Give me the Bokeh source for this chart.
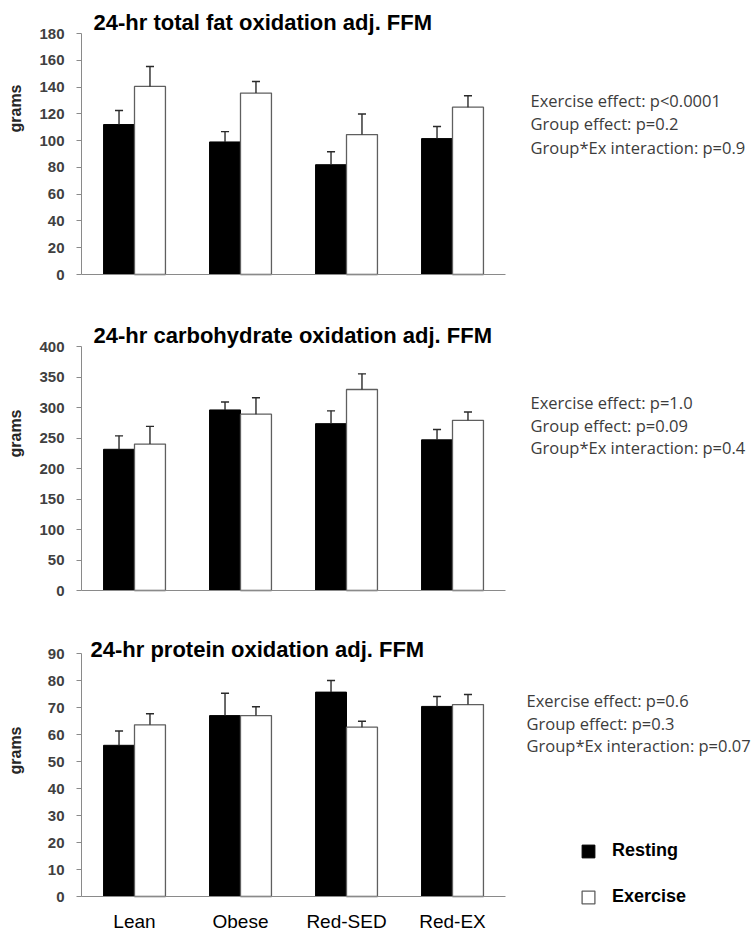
import math
from bokeh.plotting import figure
from bokeh.models import (ColumnDataSource, Range1d, Label, Legend, LegendItem,
                          SingleIntervalTicker, FixedTicker)
from bokeh.layouts import column
from bokeh.embed import file_html
from bokeh.resources import INLINE

# ---------------- data ----------------
groups = ["Lean", "Obese", "Red-SED", "Red-EX"]
series_names = ["Resting", "Exercise"]

fat_rest = [112, 99, 82, 101.5]
fat_rest_err = [10.5, 7.7, 9.7, 9]
fat_ex = [140.5, 135.5, 104.5, 125]
fat_ex_err = [14.8, 8.7, 15.4, 8.5]

cho_rest = [231.5, 296, 273.5, 247]
cho_rest_err = [22, 13, 21, 17]
cho_ex = [240, 289, 329.5, 279]
cho_ex_err = [29, 27, 25.7, 13.6]

pro_rest = [56, 67, 75.7, 70.4]
pro_rest_err = [5.3, 8.3, 4.3, 3.7]
pro_ex = [63.6, 67, 62.7, 71.1]
pro_ex_err = [4.1, 3.3, 2.2, 3.7]

titles = ["24-hr total fat oxidation adj. FFM",
          "24-hr carbohydrate oxidation adj. FFM",
          "24-hr protein oxidation adj. FFM"]
y_max = [180, 400, 90]
y_step = [20, 50, 10]
y_label = "grams"

stats = [
    ["Exercise effect: p<0.0001", "Group effect: p=0.2", "Group*Ex interaction: p=0.9"],
    ["Exercise effect: p=1.0", "Group effect: p=0.09", "Group*Ex interaction: p=0.4"],
    ["Exercise effect: p=0.6", "Group effect: p=0.3", "Group*Ex interaction: p=0.07"],
]

# ---------------- layout (screen pixels) ----------------
PAGE_L, PAGE_R = 0, 753
AXIS_X = 81          # screen x of the y axis
GROUP_PX = 106       # screen px per category
FIG_TOP = [0, 300, 620]
FIG_BOT = [300, 620, 933]
TOP_PX = [33, 346, 653]      # screen y of y_max
ZERO_PX = [274, 590, 896]    # screen y of 0
TITLE_X = [93, 93, 90]
TITLE_BASE = [22, 335, 649]
STATS_X = [530, 530, 526]
STATS_Y = [[100, 123, 147], [402, 425, 447], [700, 723, 745]]
GRAMS_Y = [108, 433, 750]
GRAMS_X = 15

BW = 0.292
OFF = 0.146
CAP = 0.038
AXIS_GREY = "#8a8a8a"
SANS = "Liberation Sans"


def make_panel(k, rest, rest_err, ex, ex_err, last):
    ymax = y_max[k]
    scale = (ZERO_PX[k] - TOP_PX[k]) / ymax

    def X(px):
        return (px - AXIS_X) / GROUP_PX

    def Y(py):
        return (ZERO_PX[k] - py) / scale

    p = figure(width=PAGE_R - PAGE_L, height=FIG_BOT[k] - FIG_TOP[k], title=None,
               x_range=Range1d(X(PAGE_L), X(PAGE_R)),
               y_range=Range1d(Y(FIG_BOT[k]), Y(FIG_TOP[k])),
               output_backend="svg", toolbar_location=None, min_border=0)
    p.outline_line_color = None
    p.xgrid.visible = False
    p.ygrid.visible = False
    p.background_fill_color = "white"
    p.border_fill_color = "white"

    centers = [i + 0.5 for i in range(len(groups))]
    src = ColumnDataSource(dict(
        xr=[c - OFF for c in centers], xe=[c + OFF for c in centers],
        xr0=[c - OFF - CAP for c in centers], xr1=[c - OFF + CAP for c in centers],
        xe0=[c + OFF - CAP for c in centers], xe1=[c + OFF + CAP for c in centers],
        rest=rest, rest_hi=[v + e for v, e in zip(rest, rest_err)],
        ex=ex, ex_hi=[v + e for v, e in zip(ex, ex_err)],
    ))

    r1 = p.vbar(x="xr", top="rest", width=BW, source=src,
                fill_color="black", line_color="black", line_width=1)
    r2 = p.vbar(x="xe", top="ex", width=BW, source=src,
                fill_color="white", line_color="#5f5f5f", line_width=1.3)

    for xc, x0, x1, lo, hi in [("xr", "xr0", "xr1", "rest", "rest_hi"),
                               ("xe", "xe0", "xe1", "ex", "ex_hi")]:
        p.segment(x0=xc, x1=xc, y0=lo, y1=hi, source=src,
                  line_color="#2a2a2a", line_width=1.4)
        p.segment(x0=x0, x1=x1, y0=hi, y1=hi, source=src,
                  line_color="#2a2a2a", line_width=1.4)

    # y axis
    ya = p.yaxis[0]
    ya.fixed_location = 0
    ya.bounds = (0, ymax)
    ya.ticker = SingleIntervalTicker(interval=y_step[k], num_minor_ticks=0)
    ya.axis_line_color = AXIS_GREY
    ya.major_tick_line_color = AXIS_GREY
    ya.major_tick_out = 5
    ya.major_tick_in = 0
    ya.minor_tick_line_color = None
    ya.major_label_standoff = 12
    ya.major_label_text_font = SANS
    ya.major_label_text_font_style = "bold"
    ya.major_label_text_font_size = "15px"
    ya.major_label_text_color = "#404040"

    # x axis
    xa = p.xaxis[0]
    xa.fixed_location = 0
    xa.bounds = (0, len(groups))
    xa.axis_line_color = AXIS_GREY
    xa.major_tick_line_color = None
    xa.minor_tick_line_color = None
    xa.major_tick_out = 0
    xa.major_tick_in = 0
    if last:
        xa.ticker = FixedTicker(ticks=centers)
        xa.major_label_overrides = {c: g for c, g in zip(centers, groups)}
        xa.major_label_standoff = 14
        xa.major_label_text_font = SANS
        xa.major_label_text_font_size = "19px"
        xa.major_label_text_color = "black"
    else:
        xa.ticker = FixedTicker(ticks=[])

    # title
    p.add_layout(Label(x=X(TITLE_X[k]), y=Y(TITLE_BASE[k]),
                       text=titles[k], text_font=SANS, text_font_style="bold",
                       text_font_size="22px", text_color="black",
                       text_baseline="alphabetic", text_align="left"))

    # y label
    p.add_layout(Label(x=X(GRAMS_X), y=Y(GRAMS_Y[k]),
                       angle=math.pi / 2, text=y_label, text_font=SANS,
                       text_font_style="bold", text_font_size="16px",
                       text_color="#262626", text_align="center",
                       text_baseline="middle"))

    # statistics
    for line, py in zip(stats[k], STATS_Y[k]):
        p.add_layout(Label(x=X(STATS_X[k]), y=Y(py),
                           text=line, text_font="Open Sans", text_font_size="16.5px",
                           text_color="#3c3c3c", text_align="left",
                           text_baseline="middle"))

    if last:
        legend = Legend(items=[LegendItem(label=series_names[0], renderers=[r1]),
                               LegendItem(label=series_names[1], renderers=[r2])],
                        location=(580, 26), orientation="vertical",
                        border_line_color=None, background_fill_alpha=0,
                        padding=0, margin=0, spacing=25,
                        glyph_width=16, glyph_height=16, label_height=16,
                        label_standoff=16, label_text_font=SANS,
                        label_text_font_style="bold", label_text_font_size="18px",
                        label_text_color="black")
        p.add_layout(legend)
    return p


p1 = make_panel(0, fat_rest, fat_rest_err, fat_ex, fat_ex_err, False)
p2 = make_panel(1, cho_rest, cho_rest_err, cho_ex, cho_ex_err, False)
p3 = make_panel(2, pro_rest, pro_rest_err, pro_ex, pro_ex_err, True)

layout = column(p1, p2, p3)
open("out.html", "w").write(file_html(layout, INLINE))
